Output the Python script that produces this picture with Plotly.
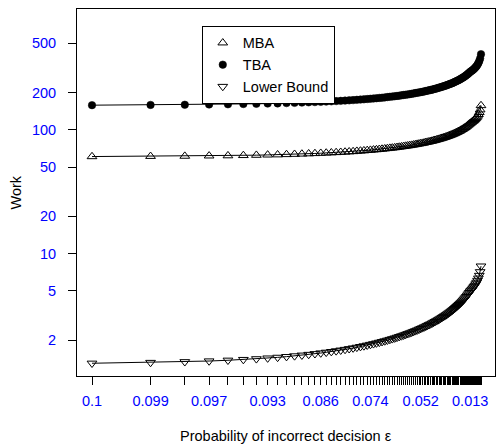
import plotly.graph_objects as go

# x categories: probability of incorrect decision (epsilon), plotted in order on a log-index axis
eps = [0.100, 0.099, 0.098, 0.097, 0.096, 0.095, 0.094, 0.093, 0.092, 0.091,
       0.090, 0.089, 0.088, 0.087, 0.086, 0.085, 0.084, 0.083, 0.082, 0.081,
       0.080, 0.079, 0.078, 0.077, 0.076, 0.075, 0.074, 0.073, 0.072, 0.071,
       0.070, 0.069, 0.068, 0.067, 0.066, 0.065, 0.064, 0.063, 0.062, 0.061,
       0.060, 0.059, 0.058, 0.057, 0.056, 0.055, 0.054, 0.053, 0.052, 0.051,
       0.050, 0.049, 0.048, 0.047, 0.046, 0.045, 0.044, 0.043, 0.042, 0.041,
       0.040, 0.039, 0.038, 0.037, 0.036, 0.035, 0.034, 0.033, 0.032, 0.031,
       0.030, 0.029, 0.028, 0.027, 0.026, 0.025, 0.024, 0.023, 0.022, 0.021,
       0.020, 0.019, 0.018, 0.017, 0.016, 0.015, 0.014, 0.013, 0.012, 0.011,
       0.010, 0.009, 0.008, 0.007, 0.006, 0.005, 0.004, 0.003, 0.002, 0.001]

mba = [60.8, 61.1, 61.3, 61.6, 61.8, 62.1, 62.4, 62.7, 62.9, 63.2,
       63.5, 63.8, 64.1, 64.4, 64.7, 65.0, 65.3, 65.6, 65.9, 66.2,
       66.5, 66.8, 67.2, 67.5, 67.8, 68.2, 68.5, 68.9, 69.2, 69.6,
       69.9, 70.3, 70.7, 71.1, 71.4, 71.8, 72.2, 72.6, 73.0, 73.5,
       73.9, 74.3, 74.7, 75.2, 75.6, 76.1, 76.6, 77.1, 77.5, 78.0,
       78.5, 79.1, 79.6, 80.1, 80.7, 81.2, 81.8, 82.4, 83.0, 83.6,
       84.3, 84.9, 85.6, 86.3, 87.0, 87.7, 88.4, 89.2, 90.0, 90.8,
       91.6, 92.5, 93.4, 94.3, 95.3, 96.3, 97.3, 98.4, 99.6, 100.8,
       102.0, 103.3, 104.7, 106.2, 107.7, 109.4, 111.1, 113.0, 114.4, 115.9,
       117.5, 119.3, 121.4, 123.7, 126.3, 129.4, 133.3, 138.2, 145.2, 157.1]

tba = [158.1, 158.9, 159.4, 160.2, 160.7, 161.5, 162.2, 163.0, 163.5, 164.3,
       165.1, 165.9, 166.7, 167.4, 168.2, 169.0, 169.8, 170.6, 171.3, 172.1,
       172.9, 173.7, 174.7, 175.5, 176.3, 177.3, 178.1, 179.1, 179.9, 181.0,
       181.7, 182.8, 183.8, 184.9, 185.6, 186.7, 187.7, 188.8, 189.8, 191.1,
       192.1, 193.2, 194.2, 195.5, 196.6, 197.9, 199.2, 200.5, 201.5, 202.8,
       204.1, 205.7, 207.0, 208.3, 209.8, 211.1, 212.7, 214.2, 215.8, 217.4,
       219.2, 220.7, 222.6, 224.4, 226.2, 228.0, 229.8, 231.9, 234.0, 236.1,
       238.2, 240.5, 242.8, 245.2, 247.8, 250.4, 253.0, 255.8, 259.0, 262.1,
       265.2, 268.6, 272.2, 276.1, 280.0, 284.4, 288.9, 293.8, 297.4, 301.3,
       305.5, 310.2, 315.6, 321.6, 328.4, 336.4, 346.6, 359.3, 377.5, 408.5]

lower_bound = [1.300, 1.318, 1.336, 1.355, 1.374, 1.392, 1.411, 1.431, 1.450, 1.470,
               1.490, 1.510, 1.530, 1.551, 1.572, 1.593, 1.614, 1.636, 1.657, 1.679,
               1.702, 1.724, 1.747, 1.771, 1.794, 1.818, 1.842, 1.866, 1.891, 1.917,
               1.942, 1.968, 1.994, 2.021, 2.048, 2.075, 2.103, 2.132, 2.161, 2.190,
               2.220, 2.250, 2.281, 2.312, 2.344, 2.376, 2.409, 2.443, 2.477, 2.512,
               2.548, 2.584, 2.621, 2.659, 2.698, 2.737, 2.778, 2.819, 2.862, 2.905,
               2.949, 2.995, 3.042, 3.090, 3.139, 3.190, 3.242, 3.296, 3.351, 3.408,
               3.467, 3.528, 3.591, 3.657, 3.725, 3.795, 3.869, 3.945, 4.025, 4.109,
               4.197, 4.289, 4.387, 4.490, 4.599, 4.715, 4.839, 4.973, 5.062, 5.162,
               5.272, 5.393, 5.529, 5.682, 5.859, 6.069, 6.326, 6.657, 7.123, 7.920]

shown_x_labels = ["0.1", "0.099", "0.097", "0.093", "0.086", "0.074", "0.052", "0.013"]
y_ticks = [2, 5, 10, 20, 50, 100, 200, 500]

series_names = ["MBA", "TBA", "Lower Bound"]

FONT = "Liberation Sans, Arial, Helvetica, sans-serif"
FS = 14.5
BLUE = "#0000ff"

idx = list(range(1, len(eps) + 1))
ticktext = [(f"{e:g}" if f"{e:g}" in shown_x_labels else "") for e in eps]

styles = {
    "MBA": dict(symbol="triangle-up-open", size=8.5, color="black", line=dict(width=1, color="black")),
    "TBA": dict(symbol="circle", size=7.5, color="black", line=dict(width=0.5, color="black")),
    "Lower Bound": dict(symbol="triangle-down-open", size=8.5, color="black", line=dict(width=1, color="black")),
}
values = {"MBA": mba, "TBA": tba, "Lower Bound": lower_bound}

fig = go.Figure()
for name in series_names:
    fig.add_trace(go.Scatter(
        x=idx, y=values[name], mode="lines+markers", name=name,
        line=dict(color="black", width=1), marker=styles[name],
        showlegend=False, customdata=eps,
    ))
for name in series_names:
    fig.add_trace(go.Scatter(
        x=[None], y=[None], mode="markers", name=name,
        marker=styles[name], showlegend=True,
    ))

fig.update_layout(
    width=498, height=446,
    margin=dict(l=77, r=3, t=9, b=70),
    paper_bgcolor="white", plot_bgcolor="white",
    font=dict(family=FONT, size=FS, color="black"),
    showlegend=True,
    legend=dict(
        x=0.2985, y=0.954, xanchor="left", yanchor="top",
        bordercolor="black", borderwidth=1, bgcolor="white",
        font=dict(family=FONT, size=FS, color="black"),
    ),
    xaxis=dict(
        type="log", range=[-0.0771, 2.072],
        tickmode="array", tickvals=idx, ticktext=ticktext,
        ticks="outside", ticklen=8, tickwidth=1, tickcolor="black",
        tickfont=dict(family=FONT, size=FS, color=BLUE),
        ticklabelstandoff=4,
        showgrid=False, zeroline=False,
        showline=True, linecolor="black", linewidth=1, mirror=True,
    ),
    yaxis=dict(
        type="log", range=[0.011, 2.976],
        tickmode="array", tickvals=y_ticks, ticktext=[str(v) for v in y_ticks],
        ticks="outside", ticklen=8, tickwidth=1, tickcolor="black",
        tickfont=dict(family=FONT, size=FS, color=BLUE),
        ticklabelstandoff=9,
        showgrid=False, zeroline=False,
        showline=True, linecolor="black", linewidth=1, mirror=True,
    ),
    annotations=[
        dict(text="Probability of incorrect decision ε", xref="paper", yref="paper",
             x=0.5, y=(376 - 436) / 367, xanchor="center", yanchor="middle",
             showarrow=False, font=dict(family=FONT, size=FS, color="black")),
        dict(text="Work", xref="paper", yref="paper", textangle=-90,
             x=(15 - 77) / 418, y=0.5, xanchor="center", yanchor="middle",
             showarrow=False, font=dict(family=FONT, size=FS, color="black")),
    ],
)

fig.write_html(
    "out.html",
    config={"displayModeBar": False},
    post_script="document.body.style.margin='0px';document.body.style.overflow='hidden';",
)
